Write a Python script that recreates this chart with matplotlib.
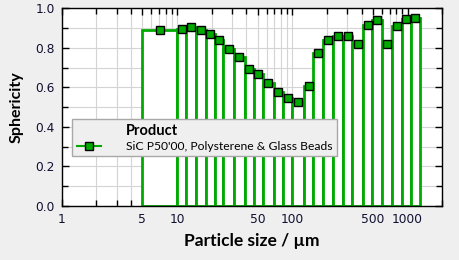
import matplotlib
matplotlib.use("Agg")
import matplotlib.pyplot as plt
import numpy as np
from matplotlib.lines import Line2D
from matplotlib.ticker import FixedLocator, NullFormatter, FixedFormatter

plt.rcParams['font.family'] = ['Lato', 'DejaVu Sans']

# ---- data ----
bin_edges = [5, 10, 12, 14.6, 17.8, 21.2, 25.3, 31, 38.7, 46.4, 55.5, 69.2, 82.8,
             100, 126, 152, 185, 225, 275, 332, 411, 496, 598, 730, 887, 1069, 1279]
sphericity = [0.890, 0.896, 0.906, 0.891, 0.871, 0.840, 0.794, 0.754, 0.692, 0.667,
              0.623, 0.577, 0.547, 0.527, 0.606, 0.774, 0.838, 0.860, 0.860, 0.819,
              0.915, 0.940, 0.819, 0.911, 0.945, 0.952]
x_major = [1, 5, 10, 50, 100, 500, 1000]
x_major_labels = ['1', '5', '10', '50', '100', '500', '1000']
y_major = [0, 0.2, 0.4, 0.6, 0.8, 1.0]
y_major_labels = ['0.0', '0.2', '0.4', '0.6', '0.8', '1.0']
series_label = "SiC P50'00, Polysterene & Glass Beads"
legend_title = "Product"

GREEN = '#00aa00'
BG = '#f0eff0'
TICKFONT = {'family': ['DejaVu Sans'], 'size': 8.8}

fig = plt.figure(figsize=(4.6, 2.6), dpi=100, facecolor=BG)
ax = fig.add_axes([0.134, 0.2077, 0.8275, 0.7603])
ax.set_facecolor('white')

edges = np.array(bin_edges, dtype=float)
lefts = edges[:-1]
widths = np.diff(edges)
centers = np.sqrt(edges[:-1] * edges[1:])

ax.set_xscale('log')
ax.bar(lefts, sphericity, width=widths, align='edge', facecolor='white',
       edgecolor=GREEN, linewidth=2.0, zorder=3)
ax.plot(centers, sphericity, linestyle='none', marker='s', markersize=6,
        markerfacecolor=GREEN, markeredgecolor='black', markeredgewidth=1.0, zorder=4)

ax.set_xlim(1, 2000)
ax.set_ylim(0, 1.0)

minor = []
for dec in [1, 10, 100, 1000]:
    for m in range(2, 10):
        v = dec * m
        if v <= 2000 and v not in x_major:
            minor.append(v)
ax.xaxis.set_major_locator(FixedLocator(x_major))
ax.xaxis.set_major_formatter(FixedFormatter(x_major_labels))
ax.xaxis.set_minor_locator(FixedLocator(minor))
ax.xaxis.set_minor_formatter(NullFormatter())
ax.yaxis.set_major_locator(FixedLocator(y_major))
ax.yaxis.set_minor_locator(FixedLocator([0.1, 0.3, 0.5, 0.7, 0.9]))
ax.yaxis.set_major_formatter(FixedFormatter(y_major_labels))

ax.grid(True, which='both', color='#d4d4d4', linewidth=0.8, zorder=0)
ax.set_axisbelow(True)
ax.tick_params(which='both', direction='in', top=True, right=True,
               colors='black', labelcolor='#101030', pad=5)
ax.tick_params(which='major', length=5, width=1)
ax.tick_params(which='minor', length=4, width=1)
for lbl in ax.get_xticklabels() + ax.get_yticklabels():
    lbl.set_fontfamily(TICKFONT['family'])
    lbl.set_fontsize(TICKFONT['size'])
for s in ax.spines.values():
    s.set_linewidth(1.0)
    s.set_color('black')
    s.set_zorder(5)

ax.set_xlabel('Particle size / µm', fontsize=12.5, fontweight='bold', labelpad=5)
ax.set_ylabel('Sphericity', fontsize=11.5, fontweight='bold', labelpad=8)

h_title = Line2D([], [], linestyle='none')
h_series = Line2D([], [], color=GREEN, linewidth=1.5, marker='s', markersize=6,
                  markerfacecolor=GREEN, markeredgecolor='black', markeredgewidth=1.0)
leg = ax.legend([h_title, h_series], [legend_title, series_label],
                loc='upper left', bbox_to_anchor=(0.028, 0.4385), borderaxespad=0,
                fontsize=8.75, frameon=True, fancybox=False, edgecolor='#a8a8a8',
                facecolor=BG, framealpha=1, handlelength=2.0, handletextpad=2.05,
                borderpad=0.35, labelspacing=0.3)
leg.get_frame().set_linewidth(1.0)
leg.get_texts()[0].set_fontweight('bold')
leg.get_texts()[0].set_fontsize(10.5)
leg.set_zorder(6)

fig.savefig('out.png', dpi=100, facecolor=BG)
